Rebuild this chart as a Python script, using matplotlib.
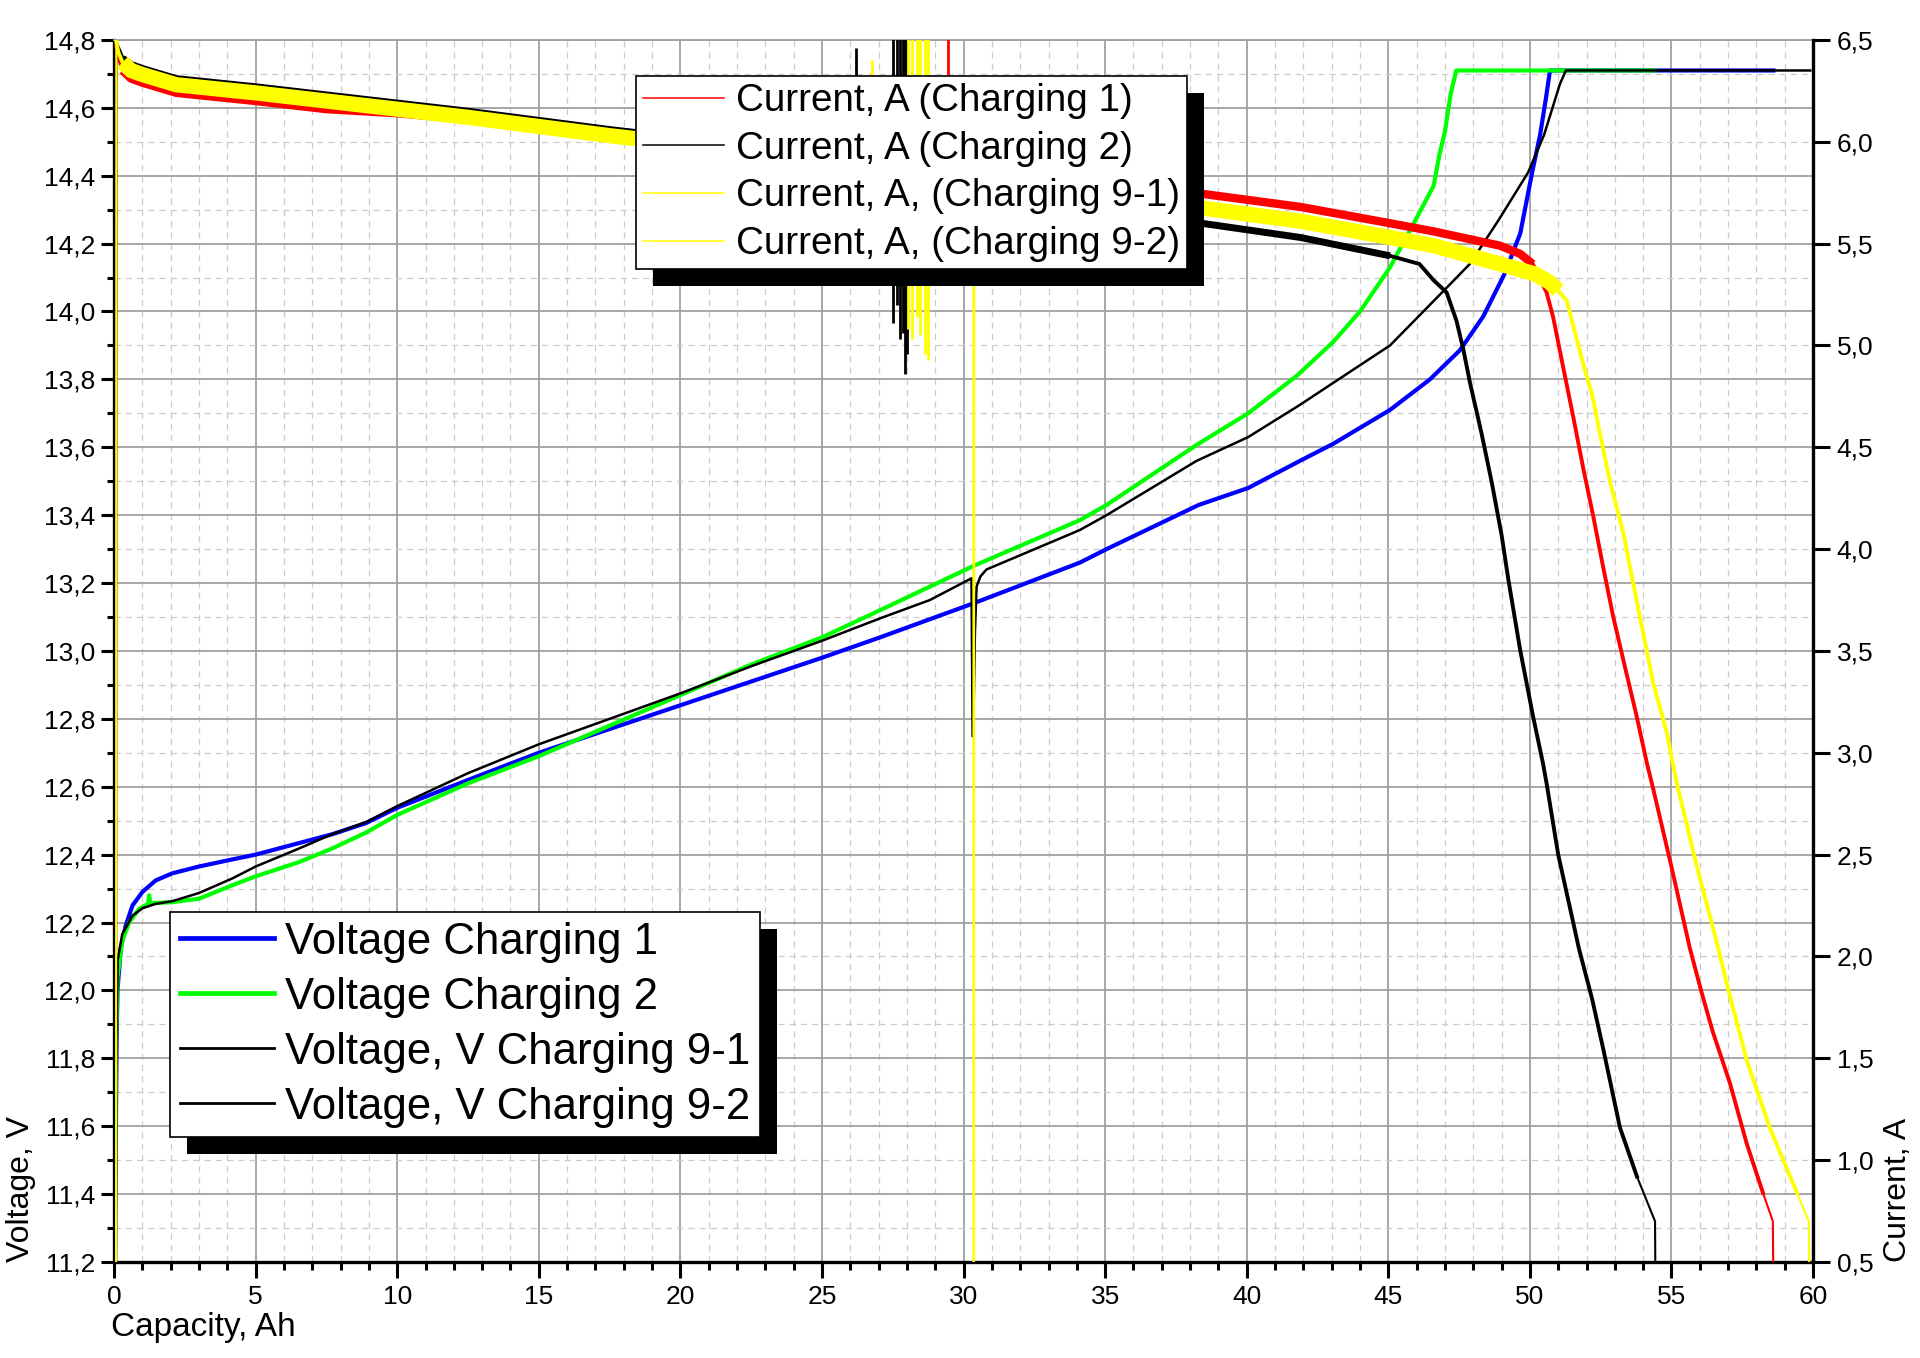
import numpy as np
import matplotlib
matplotlib.use("Agg")
import matplotlib.pyplot as plt
from matplotlib.lines import Line2D
from matplotlib.legend import Legend
from matplotlib.patches import Rectangle
from matplotlib.ticker import MultipleLocator, FuncFormatter, NullLocator

plt.rcParams['font.family'] = ['Liberation Sans', 'DejaVu Sans']

# ---- voltage curves (left axis, V) ----
volt1_x = [0.03, 0.05, 0.07, 0.09, 0.12, 0.24, 0.41, 0.65, 1.0, 1.47, 2.06, 3.0, 4.18, 5.0,
           6.53, 7.7, 8.9, 10.0, 12.5, 15.0, 17.5, 20.0, 22.5, 25.0, 27.05, 30.34, 34.1,
           35.05, 38.3, 40.05, 41.88, 43.05, 45.06, 46.47, 47.53, 48.35, 49.1, 49.66,
           50.08, 50.36, 50.57, 50.71, 55.0, 58.6]
volt1_v = [11.1, 11.41, 11.65, 11.85, 12.0, 12.125, 12.19, 12.25, 12.29, 12.324, 12.345,
           12.365, 12.386, 12.40, 12.434, 12.46, 12.493, 12.538, 12.62, 12.70, 12.77, 12.84,
           12.91, 12.98, 13.04, 13.14, 13.26, 13.30, 13.43, 13.48, 13.56, 13.61, 13.71,
           13.80, 13.886, 13.985, 14.11, 14.23, 14.41, 14.52, 14.63, 14.71, 14.71, 14.71]

volt2_x = [0.03, 0.06, 0.12, 0.29, 0.53, 0.88, 1.2, 1.24, 1.28, 2.06, 3.0, 4.18, 5.0, 6.53,
           7.7, 8.9, 10.0, 12.5, 15.0, 17.5, 20.0, 22.5, 25.0, 27.05, 30.34, 34.1, 35.05,
           38.23, 40.05, 41.76, 43.05, 44.0, 45.06, 45.9, 46.6, 46.8, 47.0, 47.2, 47.4,
           50.0, 54.4]
volt2_v = [11.3, 11.83, 12.04, 12.145, 12.2, 12.24, 12.255, 12.28, 12.257, 12.26, 12.27,
           12.31, 12.336, 12.378, 12.418, 12.465, 12.517, 12.61, 12.69, 12.78, 12.87, 12.96,
           13.04, 13.12, 13.25, 13.385, 13.43, 13.607, 13.70, 13.81, 13.91, 14.0, 14.13,
           14.26, 14.37, 14.46, 14.53, 14.64, 14.71, 14.71, 14.71]

volt91_x = [0.03, 0.06, 0.13, 0.29, 0.65, 1.0, 1.47, 2.06, 3.0, 4.18, 5.0, 6.53, 7.7, 8.9,
            10.0, 12.5, 15.0, 17.5, 20.0, 22.5, 25.0, 27.05, 28.81, 30.28, 30.32]
volt91_v = [11.4, 11.73, 12.09, 12.166, 12.22, 12.242, 12.255, 12.263, 12.287, 12.33,
            12.365, 12.418, 12.46, 12.496, 12.543, 12.64, 12.725, 12.80, 12.875, 12.955,
            13.03, 13.096, 13.15, 13.214, 12.75]

volt92_x = [30.34, 30.40, 30.46, 30.6, 30.81, 34.1, 35.05, 38.23, 40.05, 41.88, 43.06, 45.06,
            46.12, 47.06, 47.88, 48.9, 49.94, 50.5, 51.06, 51.27, 55.0, 59.9]
volt92_v = [12.75, 13.05, 13.19, 13.22, 13.24, 13.356, 13.40, 13.56, 13.63, 13.725, 13.79,
            13.90, 13.99, 14.07, 14.14, 14.27, 14.41, 14.52, 14.67, 14.71, 14.71, 14.71]

# ---- current curves (right axis, A) ----
cur1_x = [0.07, 0.08, 0.15, 0.3, 0.6, 1.0, 2.2, 5.0, 7.5, 10.0, 12.5, 15.0, 17.5, 20.0, 25.0,
          30.0, 35.0, 38.4, 41.9, 45.06, 46.6, 48.94, 49.65, 50.1, 50.59, 50.82, 51.18,
          51.53, 51.88, 52.24, 52.59, 52.94, 53.36, 53.77, 54.13, 54.36, 55.0, 55.65, 56.07,
          56.46, 57.06, 57.66, 58.23, 58.58, 58.62]
cur1_a = [0.0, 6.47, 6.42, 6.35, 6.31, 6.29, 6.24, 6.20, 6.16, 6.14, 6.11, 6.07, 6.03,
          5.99, 5.93, 5.86, 5.79, 5.745, 5.68, 5.60, 5.56, 5.49, 5.45, 5.40, 5.26, 5.14, 4.89,
          4.65, 4.40, 4.16, 3.91, 3.67, 3.42, 3.18, 2.95, 2.82, 2.44, 2.04, 1.82, 1.63, 1.38,
          1.08, 0.84, 0.70, 0.0]

cur2_x = [0.07, 0.08, 0.15, 0.3, 0.6, 1.0, 2.2, 5.0, 7.5, 10.0, 12.5, 15.0, 17.5, 20.0, 25.0,
          30.0, 35.0, 38.4, 41.9, 45.06, 46.1, 46.6, 47.06, 47.41, 47.65, 47.88, 48.29,
          48.65, 49.0, 49.24, 49.65, 50.11, 50.46, 50.59, 51.0, 51.35, 51.73, 52.2, 52.6,
          53.18, 53.78, 54.42, 54.45]
cur2_a = [0.0, 6.48, 6.46, 6.41, 6.38, 6.36, 6.31, 6.27, 6.23, 6.19, 6.15, 6.105, 6.06,
          6.02, 5.93, 5.85, 5.70, 5.60, 5.53, 5.44, 5.40, 5.32, 5.26, 5.12, 4.98, 4.82, 4.57,
          4.33, 4.07, 3.85, 3.51, 3.18, 2.95, 2.85, 2.5, 2.28, 2.04, 1.79, 1.54, 1.16, 0.92,
          0.70, 0.0]

cur91_x = [0.07, 0.08, 0.15, 0.3, 0.6, 1.0, 2.2, 5.0, 7.5, 10.0, 12.5, 15.0, 17.5, 20.0,
           25.0, 28.0, 30.35, 30.35]
cur91_a = [0.0, 6.49, 6.44, 6.39, 6.35, 6.33, 6.28, 6.24, 6.20, 6.16, 6.12, 6.075, 6.03,
           5.99, 5.93, 5.90, 5.87, 0.0]

cur92_x = [30.36, 30.38, 35.0, 38.4, 41.9, 45.06, 46.6, 48.94, 50.2, 50.7, 51.0, 51.3, 51.6,
           51.9, 52.2, 52.47, 52.83, 53.3, 53.65, 54.0, 54.36, 54.83, 55.19, 55.9, 56.6,
           57.0, 57.66, 58.47, 59.43, 59.85, 59.9]
cur92_a = [0.0, 5.86, 5.77, 5.675, 5.61, 5.53, 5.49, 5.40, 5.35, 5.31, 5.27, 5.22, 5.06,
           4.90, 4.76, 4.57, 4.33, 4.08, 3.83, 3.59, 3.34, 3.10, 2.85, 2.44, 2.07, 1.84, 1.49,
           1.16, 0.84, 0.70, 0.0]

# short current spikes around 26-30 Ah
spike_black_x = [26.2, 27.52, 27.64, 27.76, 27.87, 27.94, 27.99]
spike_black_lo = [5.95, 5.11, 5.20, 5.03, 5.06, 4.86, 4.96]
spike_black_hi = [6.46, 6.6, 6.6, 6.6, 6.6, 6.6, 6.6]
spike_yellow_x = [26.78, 28.05, 28.17, 28.35, 28.46, 28.64, 28.76]
spike_yellow_lo = [5.95, 5.08, 5.03, 5.14, 5.05, 4.96, 4.93]
spike_yellow_hi = [6.40, 6.6, 6.6, 6.6, 6.6, 6.6, 6.6]
spike_red_x = [29.45]
spike_red_lo = [5.86]
spike_red_hi = [6.6]

cur_labels = ['Current, A (Charging 1)', 'Current, A (Charging 2)',
              'Current, A, (Charging 9-1)', 'Current, A, (Charging 9-2)']
volt_labels = ['Voltage Charging 1', 'Voltage Charging 2',
               'Voltage, V Charging 9-1', 'Voltage, V Charging 9-2']

RED, BLACK, YELLOW, BLUE, GREEN = '#ff0000', '#000000', '#ffff00', '#0000ff', '#00ff00'


def comma(v, pos):
    return f'{v:.1f}'.replace('.', ',')


fig = plt.figure(figsize=(19.2, 13.58), dpi=100)
ax = fig.add_axes([0.0594, 0.0707, 0.8849, 0.8999])
ax2 = ax.twinx()

# voltage lines
ax.plot(volt1_x, volt1_v, color=BLUE, lw=3.0)
ax.plot(volt2_x, volt2_v, color=GREEN, lw=3.0)
ax.plot(volt91_x, volt91_v, color=BLACK, lw=1.8)
ax.plot(volt92_x, volt92_v, color=BLACK, lw=1.8)


def draw_current(xs, ys, color, band_end, band_lw):
    # noisy logger traces: a thin base line, a heavier body and a wide band
    xs = np.asarray(xs, float)
    ys = np.asarray(ys, float)
    ax2.plot(xs, ys, color=color, lw=1.5)
    body = (ys > 0.75) & (ys < 6.6)
    ax2.plot(xs, np.where(body, ys, np.nan), color=color, lw=2.8)
    band = body & (xs >= 0.3) & (xs <= band_end)
    ax2.plot(xs, np.where(band, ys, np.nan), color=color, lw=band_lw,
             solid_capstyle='butt')


draw_current(cur1_x, cur1_a, RED, 50.3, 6.0)
draw_current(cur2_x, cur2_a, BLACK, 45.5, 5.0)
draw_current(cur91_x, cur91_a, YELLOW, 30.3, 11.0)
draw_current(cur92_x, cur92_a, YELLOW, 51.0, 11.0)

ax2.vlines(spike_black_x, spike_black_lo, spike_black_hi, color=BLACK, lw=2.0)
ax2.vlines(spike_yellow_x, spike_yellow_lo, spike_yellow_hi, color=YELLOW, lw=2.0)
ax2.vlines(spike_red_x, spike_red_lo, spike_red_hi, color=RED, lw=2.0)

# axes, ticks, grid
ax.set_xlim(0, 60)
ax.set_ylim(11.2, 14.8)
ax2.set_ylim(0.5, 6.5)

ax.xaxis.set_major_locator(MultipleLocator(5))
ax.xaxis.set_minor_locator(MultipleLocator(1))
ax.yaxis.set_major_locator(MultipleLocator(0.2))
ax.yaxis.set_minor_locator(MultipleLocator(0.1))
ax.yaxis.set_major_formatter(FuncFormatter(comma))
ax2.yaxis.set_major_locator(MultipleLocator(0.5))
ax2.yaxis.set_minor_locator(NullLocator())
ax2.yaxis.set_major_formatter(FuncFormatter(comma))

ax.set_axisbelow(True)
ax.grid(which='major', color='#a0a0a0', lw=1.3, ls='-')
ax.grid(which='minor', color='#cccccc', lw=0.9, ls=(0, (5, 4)))

ax.tick_params(axis='y', which='major', direction='out', length=9.5, width=2.2,
               labelsize=19, pad=4)
ax.tick_params(axis='y', which='minor', direction='out', length=5, width=2.2)
ax.tick_params(axis='x', which='major', direction='out', length=11.5, width=2.2,
               labelsize=19, pad=5)
ax.tick_params(axis='x', which='minor', direction='out', length=6, width=2.2)
ax2.tick_params(axis='y', which='major', direction='out', length=12, width=2.2,
                labelsize=19, pad=5)

for s in ('left', 'bottom'):
    ax.spines[s].set_linewidth(2.4)
ax.spines['right'].set_visible(False)
ax.spines['top'].set_color('#a0a0a0')
ax.spines['top'].set_linewidth(1.3)
ax2.spines['right'].set_linewidth(2.4)
for s in ('left', 'bottom', 'top'):
    ax2.spines[s].set_visible(False)

ax.set_xlabel('Capacity, Ah', loc='left', fontsize=24)
ax.xaxis.set_label_coords(-0.002, -0.041)
ax.set_ylabel('Voltage, V', loc='bottom', fontsize=23)
ax.yaxis.set_label_coords(-0.046, 0.0)
ax2.set_ylabel('Current, A', loc='bottom', fontsize=23)
ax2.yaxis.set_label_coords(1.041, 0.0)

# legends
cur_handles = [Line2D([], [], color=c, lw=1.1) for c in (RED, BLACK, YELLOW, YELLOW)]
volt_handles = [Line2D([], [], color=BLUE, lw=3.4), Line2D([], [], color=GREEN, lw=3.4),
                Line2D([], [], color=BLACK, lw=2.0), Line2D([], [], color=BLACK, lw=2.0)]

leg_cur = Legend(ax2, cur_handles, cur_labels, loc='upper left',
                 bbox_to_anchor=(0.3072, 0.9705), bbox_transform=ax2.transAxes,
                 fontsize=27.8, frameon=True, fancybox=False, edgecolor='black',
                 framealpha=1, borderaxespad=0, borderpad=0.19, labelspacing=0.3,
                 handlelength=2.1, handletextpad=0.3)
leg_volt = Legend(ax2, volt_handles, volt_labels, loc='upper left',
                  bbox_to_anchor=(0.033, 0.2864), bbox_transform=ax2.transAxes,
                  fontsize=31.5, frameon=True, fancybox=False, edgecolor='black',
                  framealpha=1, borderaxespad=0, borderpad=0.22, labelspacing=0.32,
                  handlelength=2.15, handletextpad=0.25)
for leg in (leg_cur, leg_volt):
    leg.get_frame().set_linewidth(1.2)
    leg.set_zorder(6)
    ax2.add_artist(leg)

# solid black drop shadows behind the legend boxes
fig.canvas.draw()
inv = fig.transFigure.inverted()
for leg in (leg_cur, leg_volt):
    bb = leg.get_window_extent()
    (x0, y0) = inv.transform((bb.x0 + 17, bb.y0 - 17))
    (x1, y1) = inv.transform((bb.x1 + 17, bb.y1 - 17))
    shadow = Rectangle((x0, y0), x1 - x0, y1 - y0, transform=fig.transFigure,
                       facecolor='black', edgecolor='none', zorder=5.5, clip_on=False)
    ax2.add_artist(shadow)

fig.savefig('out.png', dpi=100)
